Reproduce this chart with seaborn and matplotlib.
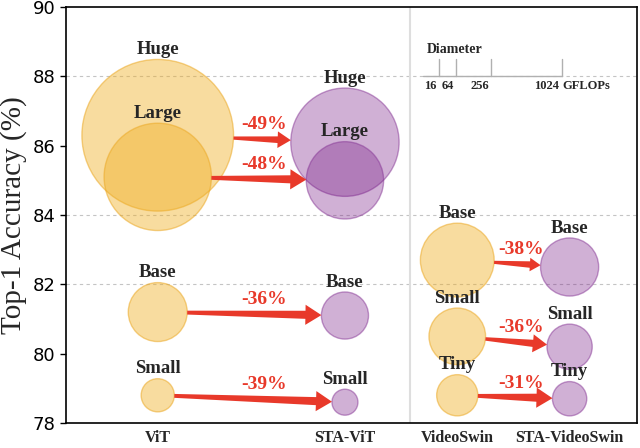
import numpy as np
import pandas as pd
import matplotlib
matplotlib.use("Agg")
import matplotlib.pyplot as plt
import matplotlib.transforms as mtransforms
from matplotlib.lines import Line2D
from matplotlib.patches import ArrowStyle
from matplotlib.path import Path
import seaborn as sns

# ---------------- data ----------------
models = ["ViT", "STA-ViT", "VideoSwin", "STA-VideoSwin"]
model_x = [0.0, 1.0, 1.6, 2.2]

vit_variants = ["Huge", "Large", "Base", "Small"]
vit_acc = [86.3, 85.1, 81.2, 78.8]
vit_gflops = [1192, 597, 180, 57]
sta_vit_acc = [86.1, 85.0, 81.1, 78.6]
sta_vit_gflops = [608, 310, 115, 35]
vit_reduction = ["-49%", "-48%", "-36%", "-39%"]

swin_variants = ["Base", "Small", "Tiny"]
swin_acc = [82.7, 80.5, 78.8]
swin_gflops = [282, 166, 88]
sta_swin_acc = [82.5, 80.2, 78.7]
sta_swin_gflops = [175, 106, 61]
swin_reduction = ["-38%", "-36%", "-31%"]

legend_gflops = [16, 64, 256, 1024]
grid_levels = [82, 84, 88]
yticks = [78, 80, 82, 84, 86, 88, 90]

# ---------------- style ----------------
sns.set_style("white")
plt.rcParams["font.family"] = ["DejaVu Sans"]
SERIF = ["Liberation Serif", "DejaVu Serif"]
RED = "#e8392a"
YEL_FACE = (239/255, 174/255, 34/255, 0.43)
YEL_EDGE = (236/255, 170/255, 40/255, 0.55)
PUR_FACE = (121/255, 29/255, 135/255, 0.35)
PUR_EDGE = (135/255, 55/255, 150/255, 0.5)
SCALE = 10.0  # marker area (pt^2) per GFLOP


class TaperArrow(ArrowStyle._Base):
    """Arrow whose tail widens from start toward the head."""

    def __init__(self, head_length=1.15, head_width=1.45, tail_start=0.28, tail_end=0.58):
        self.head_length = head_length
        self.head_width = head_width
        self.tail_start = tail_start
        self.tail_end = tail_end
        super().__init__()

    def transmute(self, path, mutation_size, linewidth):
        x0, y0 = path.vertices[0]
        x1, y1 = path.vertices[-1]
        dx, dy = x1 - x0, y1 - y0
        L = np.hypot(dx, dy)
        ux, uy = dx / L, dy / L
        nx, ny = -uy, ux
        k = min(1.0, L / (5.0 * mutation_size))
        hl = self.head_length * mutation_size * k
        hw = self.head_width * mutation_size * k / 2
        ws = self.tail_start * mutation_size * max(k, 0.8) / 2
        we = self.tail_end * mutation_size * max(k, 0.8) / 2
        bx, by = x1 - ux * hl, y1 - uy * hl
        verts = [(x0 + nx * ws, y0 + ny * ws), (bx + nx * we, by + ny * we),
                 (bx + nx * hw, by + ny * hw), (x1, y1),
                 (bx - nx * hw, by - ny * hw), (bx - nx * we, by - ny * we),
                 (x0 - nx * ws, y0 - ny * ws), (x0 + nx * ws, y0 + ny * ws)]
        codes = [Path.MOVETO] + [Path.LINETO] * 6 + [Path.CLOSEPOLY]
        return Path(verts, codes), True


fig = plt.figure(figsize=(6.4, 4.48), dpi=100)
ax = fig.add_axes([66/640, 1-423/448, (637-66)/640, (423-7)/448])

rows = []
for v, a, g in zip(vit_variants, vit_acc, vit_gflops):
    rows.append(dict(model="ViT", x=model_x[0], variant=v, acc=a, gflops=g, fam="base"))
for v, a, g in zip(vit_variants, sta_vit_acc, sta_vit_gflops):
    rows.append(dict(model="STA-ViT", x=model_x[1], variant=v, acc=a, gflops=g, fam="sta"))
for v, a, g in zip(swin_variants, swin_acc, swin_gflops):
    rows.append(dict(model="VideoSwin", x=model_x[2], variant=v, acc=a, gflops=g, fam="base"))
for v, a, g in zip(swin_variants, sta_swin_acc, sta_swin_gflops):
    rows.append(dict(model="STA-VideoSwin", x=model_x[3], variant=v, acc=a, gflops=g, fam="sta"))
df = pd.DataFrame(rows)

for fam, face, edge in [("base", YEL_FACE, YEL_EDGE), ("sta", PUR_FACE, PUR_EDGE)]:
    sub = df[df.fam == fam]
    sns.scatterplot(data=sub, x="x", y="acc", size="gflops",
                    sizes=(0, 1200 * SCALE), size_norm=(0, 1200),
                    legend=False, ax=ax, zorder=2, linewidth=1.0)
    coll = ax.collections[-1]
    coll.set_facecolor(face)
    coll.set_edgecolor(edge)


def radius_pt(g):
    return np.sqrt(SCALE * g) / 2.0


# variant labels
for _, r in df.iterrows():
    ax.annotate(r.variant, (r.x, r.acc), xytext=(0, radius_pt(r.gflops) + 1),
                textcoords="offset points", ha="center", va="bottom",
                fontsize=13.5, fontweight="bold", family=SERIF, zorder=5)


# arrows + reductions
def draw_arrows(x0, x1, acc0, g0, acc1, g1, reds):
    for a0, ga, a1, gb, red in zip(acc0, g0, acc1, g1, reds):
        ax.annotate("", xy=(x1, a1), xytext=(x0, a0),
                    arrowprops=dict(arrowstyle=TaperArrow(), color=RED, lw=0,
                                    shrinkA=radius_pt(ga), shrinkB=radius_pt(gb),
                                    mutation_scale=10), zorder=4)
        ax.annotate(red, (x0 + 0.57 * (x1 - x0), (a0 + a1) / 2), xytext=(0, 10),
                    textcoords="offset points", ha="center", va="center",
                    fontsize=14, fontweight="bold", family=SERIF, color=RED, zorder=5)


draw_arrows(model_x[0], model_x[1], vit_acc, vit_gflops, sta_vit_acc, sta_vit_gflops, vit_reduction)
draw_arrows(model_x[2], model_x[3], swin_acc, swin_gflops, sta_swin_acc, sta_swin_gflops, swin_reduction)

# grid + separator
for lv in grid_levels:
    ax.axhline(lv, color="#c4c4c4", lw=0.8, ls=(0, (3, 3)), zorder=0)
ax.axvline(1.348, color="#dedede", lw=1.5, zorder=0)

# diameter legend (in points from an anchor in axes coordinates)
pts_tr = (mtransforms.Affine2D().scale(1/72.) + fig.dpi_scale_trans
          + mtransforms.ScaledTranslation(0.6217, 0.834, ax.transAxes))
dmax = np.sqrt(SCALE * legend_gflops[-1])
ax.add_line(Line2D([1.4, dmax], [0, 0], transform=pts_tr, color="#b0b0b0", lw=1, clip_on=False, zorder=3))
for g in legend_gflops:
    d = np.sqrt(SCALE * g)
    ax.add_line(Line2D([d, d], [0, 12.2], transform=pts_tr, color="#b0b0b0", lw=1, clip_on=False, zorder=3))
    ax.text(d - 1.5, -2.5, str(g), transform=pts_tr, ha="right", va="top",
            fontsize=9, fontweight="bold", family=SERIF)
ax.text(dmax + 0.5, -2.5, "GFLOPs", transform=pts_tr, ha="left", va="top",
        fontsize=9, fontweight="bold", family=SERIF)
ax.text(4.3, 16.5, "Diameter", transform=pts_tr, ha="left", va="baseline",
        fontsize=10, fontweight="bold", family=SERIF)

# axes
ax.set_xlim(-0.49, 2.56)
ax.set_ylim(78, 90)
ax.set_yticks(yticks)
ax.set_yticklabels([str(t) for t in yticks], fontsize=13)
ax.set_xticks(model_x)
ax.set_xticklabels(models, fontsize=11.5, fontweight="bold", family=SERIF)
ax.tick_params(axis="y", left=True, length=4.5, width=1, pad=3, colors="black")
ax.tick_params(axis="x", bottom=False, length=0, pad=5)
ax.set_xlabel("")
ax.set_ylabel("Top-1 Accuracy (%)", fontsize=21, family=SERIF, labelpad=4)
for s in ax.spines.values():
    s.set_color("black")
    s.set_linewidth(1.2)
    s.set_visible(True)

fig.savefig("out.png", dpi=100)
